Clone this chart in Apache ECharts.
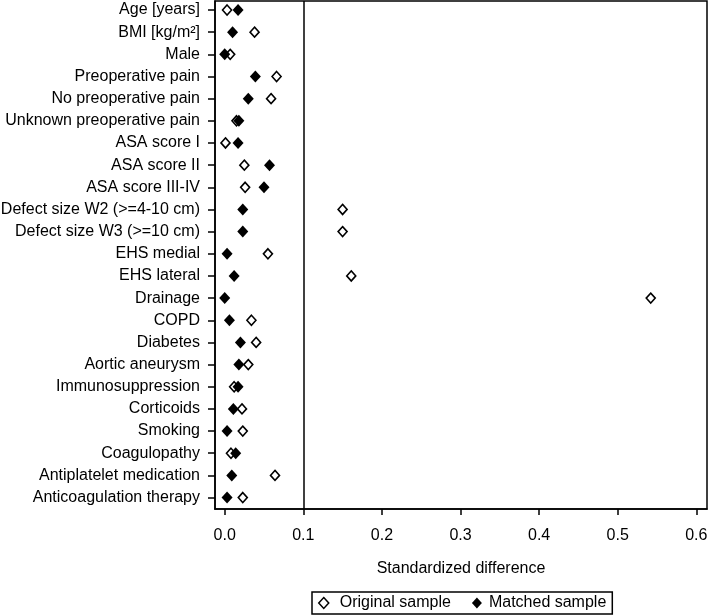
<!DOCTYPE html>
<html>
<head>
<meta charset="utf-8">
<script src="https://cdn.jsdelivr.net/npm/echarts@6/dist/echarts.min.js"></script>
<style>
html,body{margin:0;padding:0;background:#fff;}
#chart{width:709px;height:616px;}
</style>
</head>
<body>
<div id="chart"></div>
<script>
const categories = ["Age [years]","BMI [kg/m²]","Male","Preoperative pain","No preoperative pain","Unknown preoperative pain","ASA score I","ASA score II","ASA score III-IV","Defect size W2 (>=4-10 cm)","Defect size W3 (>=10 cm)","EHS medial","EHS lateral","Drainage","COPD","Diabetes","Aortic aneurysm","Immunosuppression","Corticoids","Smoking","Coagulopathy","Antiplatelet medication","Anticoagulation therapy"];
const originalSample = [0.003,0.038,0.007,0.066,0.059,0.015,0.001,0.025,0.026,0.150,0.150,0.055,0.161,0.542,0.034,0.040,0.030,0.012,0.022,0.023,0.008,0.064,0.023];
const matchedSample = [0.017,0.010,0.000,0.039,0.030,0.018,0.017,0.057,0.050,0.023,0.023,0.003,0.012,0.000,0.006,0.020,0.018,0.017,0.011,0.003,0.014,0.009,0.003];
const xTicks = [0,0.1,0.2,0.3,0.4,0.5,0.6];
const referenceLine = 0.1;

const rowIdx = categories.map((c,i)=>i+1);
const FONT = "'Liberation Sans', Arial, sans-serif";
const FS = 16;
const chart = echarts.init(document.getElementById('chart'));
chart.setOption({
  animation:false,
  backgroundColor:'#fff',
  textStyle:{fontFamily:FONT,color:'#000'},
  grid:{left:215,right:2,top:1,bottom:107,show:true,borderColor:'#000',borderWidth:1.5,backgroundColor:'transparent',containLabel:false,outerBoundsMode:'none'},
  xAxis:{
    type:'value', min:-0.01234, max:0.6136,
    name:'Standardized difference', nameLocation:'middle', nameGap:52,
    nameTextStyle:{fontSize:FS,color:'#000',fontFamily:FONT},
    axisLine:{show:true,onZero:false,lineStyle:{color:'#000',width:1.5}},
    axisTick:{show:true,length:6,customValues:xTicks,lineStyle:{color:'#000',width:1.5}},
    axisLabel:{customValues:xTicks,formatter:v=>v.toFixed(1),fontSize:FS,color:'#000',margin:19,fontFamily:FONT},
    splitLine:{show:false}
  },
  yAxis:{
    type:'value', inverse:true, min:0.594, max:23.516,
    axisLine:{show:true,onZero:false,lineStyle:{color:'#000',width:1.5}},
    axisTick:{show:true,length:7,customValues:rowIdx,lineStyle:{color:'#000',width:1.5}},
    axisLabel:{customValues:rowIdx,formatter:v=>categories[Math.round(v)-1]||'',fontSize:FS,color:'#000',margin:15,fontFamily:FONT},
    splitLine:{show:false}
  },
  legend:{
    left:312, top:592,
    orient:'horizontal',
    padding:[3,6,3,6],
    borderColor:'#000', borderWidth:1.5,
    itemWidth:10, itemHeight:11, itemGap:21,
    textStyle:{fontSize:FS,color:'#000',fontFamily:FONT,padding:[0,0,0,6]},
    data:[
      {name:'Original sample',icon:'diamond',itemStyle:{color:'#fff',borderColor:'#000',borderWidth:1.5}},
      {name:'Matched sample',icon:'diamond',itemStyle:{color:'#000',borderColor:'#000',borderWidth:0},
       textStyle:{fontSize:FS,color:'#000',fontFamily:FONT,padding:[0,0,0,2]}}
    ]
  },
  series:[
    {
      name:'Original sample', type:'scatter', symbol:'diamond', symbolSize:[9,10],
      itemStyle:{color:'#fff',borderColor:'#000',borderWidth:1.6,opacity:1},
      data:originalSample.map((v,i)=>[v,i+1]),
      z:2,
      markLine:{
        silent:true, symbol:['none','none'], label:{show:false},
        lineStyle:{color:'#000',width:1.5,type:'solid'},
        data:[{xAxis:referenceLine}]
      }
    },
    {
      name:'Matched sample', type:'scatter', symbol:'diamond', symbolSize:[11,12],
      itemStyle:{color:'#000',borderWidth:0,opacity:1},
      data:matchedSample.map((v,i)=>[v,i+1]),
      z:3
    }
  ]
});
</script>
</body>
</html>
